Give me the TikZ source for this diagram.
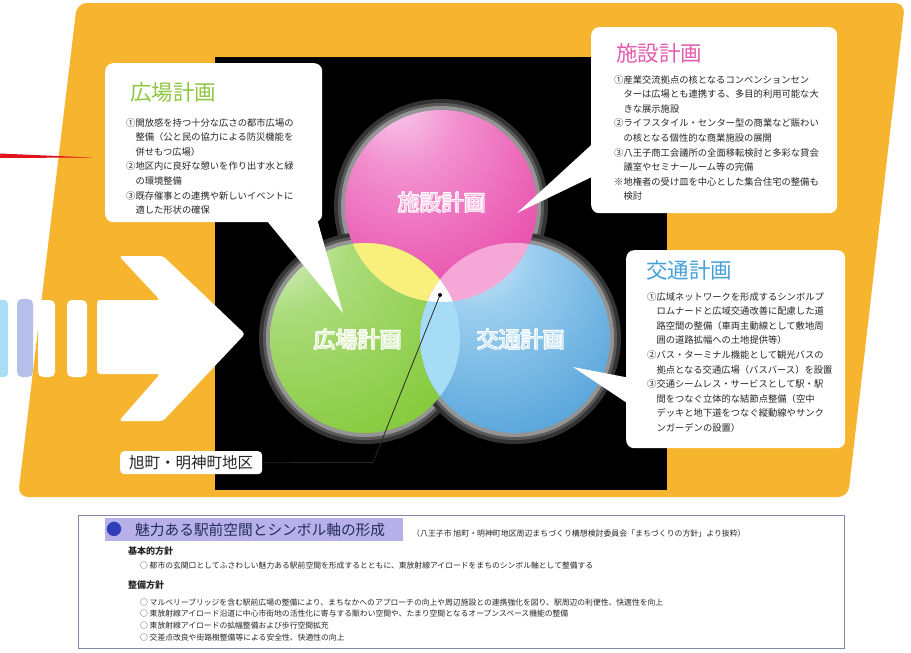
\documentclass[tikz,border=0pt]{standalone}
\usepackage{fontspec}
\setmainfont{Noto Sans CJK JP}
\usepackage[copies]{contour}
\contourlength{0.45pt}
\usetikzlibrary{calc}
\definecolor{orangebg}{HTML}{F6B42F}
\definecolor{redline}{HTML}{E0141E}
\definecolor{stripeblue}{HTML}{A8DDF5}
\definecolor{stripelav}{HTML}{B4C0EA}
\definecolor{pinkhi}{HTML}{F8CDEB}
\definecolor{pinkmid}{HTML}{F290CF}
\definecolor{pinkbase}{HTML}{E84DAA}
\definecolor{pinkdeep}{HTML}{DB2E93}
\definecolor{greenhi}{HTML}{EAF6E0}
\definecolor{greenmid}{HTML}{AADB7A}
\definecolor{greenbase}{HTML}{80C832}
\definecolor{greendeep}{HTML}{6CB525}
\definecolor{bluehi}{HTML}{E2F3FC}
\definecolor{bluemid}{HTML}{9DCFEF}
\definecolor{bluebase}{HTML}{4E9FD8}
\definecolor{bluedeep}{HTML}{3A88C4}
\definecolor{yellowx}{HTML}{F8EF7C}
\definecolor{pinkx}{HTML}{F5A8D8}
\definecolor{bluex}{HTML}{A6DCF5}
\definecolor{hgreen}{HTML}{8DC63F}
\definecolor{spink}{HTML}{E45AAE}
\definecolor{kblue}{HTML}{44A0D8}
\definecolor{lpink}{HTML}{F8C4E6}
\definecolor{lgreen}{HTML}{DDF2C8}
\definecolor{lblue}{HTML}{CDE8F9}
\definecolor{bodygray}{HTML}{262626}
\definecolor{boxborder}{HTML}{8088A8}
\definecolor{band}{HTML}{B8B0E8}
\definecolor{bulletblue}{HTML}{2F3DB8}
\definecolor{titlenavy}{HTML}{232D5E}
\pgfdeclareradialshading{pinkball}{\pgfpoint{-12bp}{28bp}}{color(0bp)=(pinkhi); color(14bp)=(pinkmid); color(40bp)=(pinkbase); color(80bp)=(pinkdeep)}
\pgfdeclareradialshading{greenball}{\pgfpoint{-28bp}{30bp}}{color(0bp)=(greenhi); color(18bp)=(greenmid); color(50bp)=(greenbase); color(90bp)=(greendeep)}
\pgfdeclareradialshading{blueball}{\pgfpoint{-12bp}{26bp}}{color(0bp)=(bluehi); color(14bp)=(bluemid); color(45bp)=(bluebase); color(85bp)=(bluedeep)}
\tikzset{
  calbox/.style={fill=white, rounded corners=8pt, inner sep=0pt, anchor=north west},
  bodytext/.style={anchor=north west, align=left, inner sep=0pt, text=bodygray, font=\fontsize{9.3}{14.6}\selectfont},
  caltitle/.style={anchor=west, inner sep=0pt, font=\fontsize{21.5}{22}\selectfont},
  vlabel/.style={inner sep=0pt, font=\fontsize{22}{22}\selectfont},
  smalltext/.style={anchor=west, inner sep=0pt, text=bodygray, font=\fontsize{7.8}{8}\selectfont},
  headtext/.style={anchor=west, inner sep=0pt, text=black!85, font=\fontsize{9}{9}\selectfont\bfseries},
  tailshape/.style={fill=white},
}
\begin{document}
\begin{tikzpicture}[x=1pt,y=-1pt]
\useasboundingbox (0,0) rectangle (911,653);
\fill[white] (0,0) rectangle (911,653);
% orange panel
\fill[orangebg, rounded corners=10pt] (77,3) -- (905,3) -- (848,497) -- (18,497) -- cycle;
% black panel
\fill[black] (215,57) rectangle (667,490);
% red line
\fill[redline] (0,153.5) -- (92,157.5) -- (0,158) -- cycle;
% stripes
\fill[stripeblue, rounded corners=4pt] (-6,300) rectangle (8,377);
\fill[stripelav, rounded corners=5pt] (17,299) rectangle (33,377);
\fill[white, rounded corners=5pt] (38,300) rectangle (55,377);
\fill[white, rounded corners=5pt] (67,300) rectangle (87,377);
% big arrow
\fill[white, rounded corners=3pt] (97,300) -- (160,300) -- (119,256) -- (163,256) -- (245,334) -- (163,421) -- (119,421) -- (160,374) -- (97,374) -- cycle;
% Venn centres
\coordinate (P) at (441,206);
\coordinate (G) at (365,338);
\coordinate (B) at (515,338);
% glow
\foreach \c/\r in {P/96,G/95,B/95}{
  \fill[black!80] (\c) circle (\r+11);
  \fill[black!65] (\c) circle (\r+7);
  \fill[black!42] (\c) circle (\r+4);
}
% circles
\shade[shading=pinkball] (P) circle (96);
\shade[shading=greenball] (G) circle (95);
\shade[shading=blueball] (B) circle (95);
% intersections
\begin{scope}\clip (P) circle (96); \fill[yellowx] (G) circle (95);\end{scope}
\begin{scope}\clip (P) circle (96); \fill[pinkx] (B) circle (95);\end{scope}
\begin{scope}\clip (G) circle (95); \fill[bluex] (B) circle (95);\end{scope}
\begin{scope}\clip (P) circle (96); \clip (G) circle (95); \fill[white] (B) circle (95);\end{scope}
% venn labels
\node[vlabel] (lblP) at (442,203) {\contour{white}{\textcolor{lpink}{施設計画}}};
\node[vlabel] (lblG) at (358,340) {\contour{white}{\textcolor{lgreen}{広場計画}}};
\node[vlabel] (lblB) at (521,340) {\contour{white}{\textcolor{lblue}{交通計画}}};
% callout tails
\coordinate (htip) at (343,313);
\coordinate (stip) at (517,213);
\coordinate (ktip) at (573,367);
\fill[tailshape] (262,215) -- (htip) -- (316,215) -- cycle;
\fill[tailshape] (600,137) -- (stip) -- (600,173) -- cycle;
\fill[tailshape] (630,378) -- (ktip) -- (630,405) -- cycle;
% callout boxes
\node[calbox, minimum width=217pt, minimum height=159pt] (hbox) at (105,63) {};
\node[calbox, minimum width=246pt, minimum height=186pt] (sbox) at (591,27) {};
\node[calbox, minimum width=219pt, minimum height=198pt] (kbox) at (626,250) {};
% titles
\node[caltitle, text=hgreen] (htitle) at (130,92) {広場計画};
\node[caltitle, text=spink] (stitle) at (616,53) {施設計画};
\node[caltitle, text=kblue] (ktitle) at (646,270) {交通計画};
% bodies
\node[bodytext] (hbody) at (126,118) {①開放感を持つ十分な広さの都市広場の\\
\hspace*{1em}整備（公と民の協力による防災機能を\\
\hspace*{1em}併せもつ広場）\\
②地区内に良好な憩いを作り出す水と緑\\
\hspace*{1em}の環境整備\\
③既存催事との連携や新しいイベントに\\
\hspace*{1em}適した形状の確保};
\node[bodytext] (sbody) at (614,75) {①産業交流拠点の核となるコンベンションセン\\
\hspace*{1em}ターは広場とも連携する、多目的利用可能な大\\
\hspace*{1em}きな展示施設\\
②ライフスタイル・センター型の商業など賑わい\\
\hspace*{1em}の核となる個性的な商業施設の展開\\
③八王子商工会議所の全面移転検討と多彩な貸会\\
\hspace*{1em}議室やセミナールーム等の完備\\
※地権者の受け皿を中心とした集合住宅の整備も\\
\hspace*{1em}検討};
\node[bodytext] (kbody) at (647,292) {①広域ネットワークを形成するシンボルプ\\
\hspace*{1em}ロムナードと広域交通改善に配慮した道\\
\hspace*{1em}路空間の整備（車両主動線として敷地周\\
\hspace*{1em}囲の道路拡幅への土地提供等）\\
②バス・ターミナル機能として観光バスの\\
\hspace*{1em}拠点となる交通広場（バスバース）を設置\\
③交通シームレス・サービスとして駅・駅\\
\hspace*{1em}間をつなぐ立体的な結節点整備（空中\\
\hspace*{1em}デッキと地下道をつなぐ縦動線やサンク\\
\hspace*{1em}ンガーデンの設置）};
% area label and leader
\node[fill=white, rounded corners=4pt, inner sep=0pt, minimum width=142pt, minimum height=23pt, anchor=north west, text=black!85, font=\fontsize{15.5}{16}\selectfont] (area) at (120,451) {旭町・明神町地区};
\coordinate (bend) at (373,462.5);
\coordinate (dot) at (440,295);
\draw[line width=0.8pt, black!85] (area.east) -- (bend) -- (dot);
\fill[black] (dot) circle (2);
% bottom panel
\node[draw=boxborder, line width=1pt, inner sep=0pt, minimum width=766pt, minimum height=133pt, anchor=north west] (panel) at (78,515) {};
\node[fill=band, inner sep=0pt, minimum width=298pt, minimum height=23pt, anchor=north west] (bandbox) at (105,518) {};
\node[anchor=west, inner sep=0pt, text=bulletblue, font=\fontsize{16}{16}\selectfont] (bullet) at (106,529.5) {●};
\node[anchor=west, inner sep=0pt, text=titlenavy, font=\fontsize{14.7}{15}\selectfont] (ttl) at (135,529.5) {魅力ある駅前空間とシンボル軸の形成};
\node[smalltext, font=\fontsize{7.9}{8}\selectfont] (cite) at (412,533) {（八王子市 旭町・明神町地区周辺まちづくり構想検討委員会「まちづくりの方針」より抜粋）};
\node[headtext] (h1) at (128,551) {基本的方針};
\node[smalltext] (l0) at (140,566) {○ 都市の玄関口としてふさわしい魅力ある駅前空間を形成するとともに、東放射線アイロードをまちのシンボル軸として整備する};
\node[headtext] (h2) at (128,585) {整備方針};
\node[smalltext] (l1) at (140,602) {○ マルベリーブリッジを含む駅前広場の整備により、まちなかへのアプローチの向上や周辺施設との連携強化を図り、駅周辺の利便性、快適性を向上};
\node[smalltext] (l2) at (140,614) {○ 東放射線アイロード沿道に中心市街地の活性化に寄与する賑わい空間や、たまり空間となるオープンスペース機能の整備};
\node[smalltext] (l3) at (140,626) {○ 東放射線アイロードの拡幅整備および歩行空間拡充};
\node[smalltext] (l4) at (140,638) {○ 交差点改良や街路樹整備等による安全性、快適性の向上};
\end{tikzpicture}
\end{document}
